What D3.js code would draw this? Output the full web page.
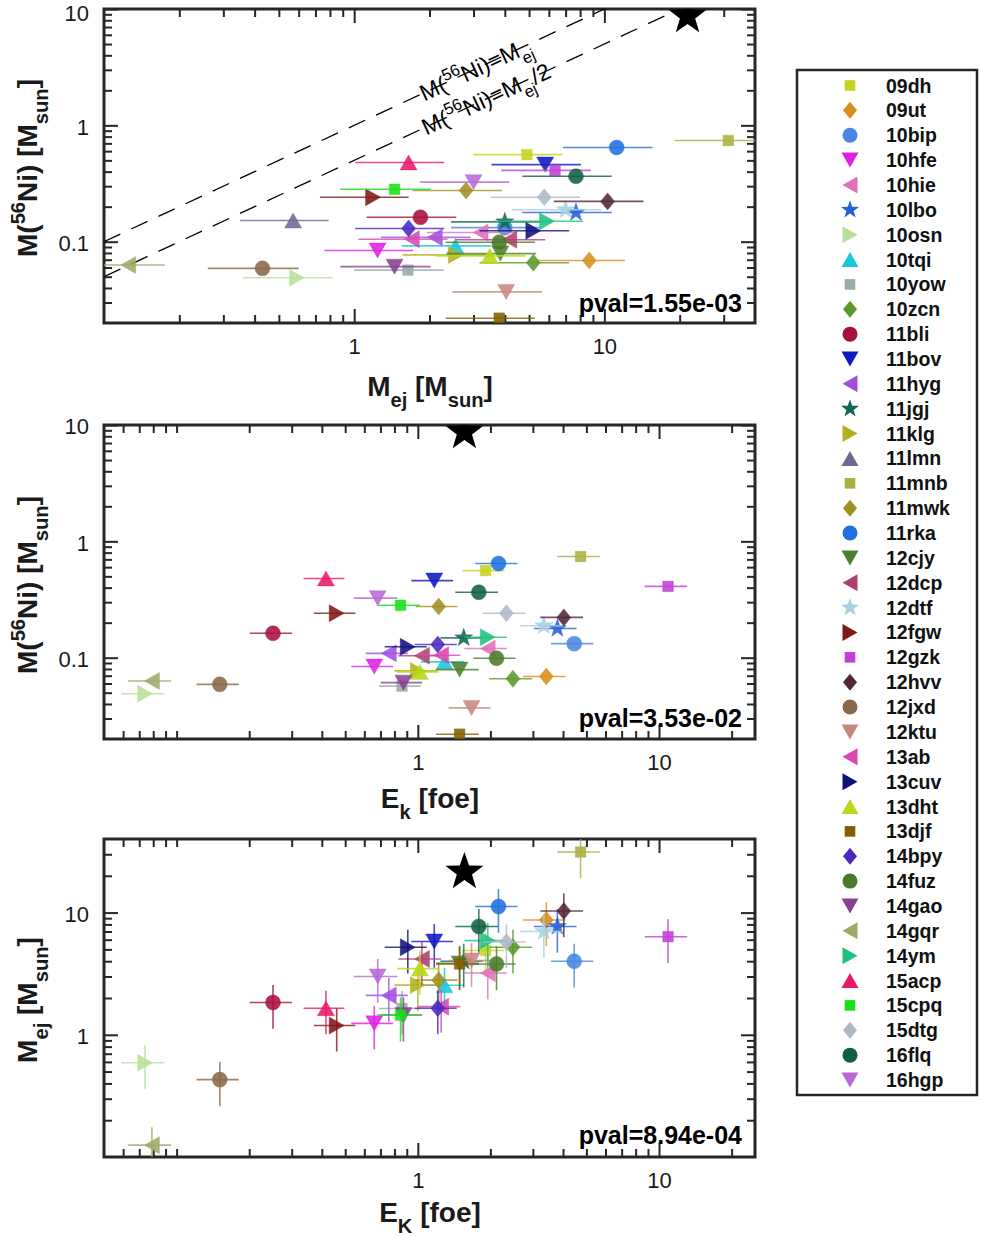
<!DOCTYPE html>
<html>
<head>
<meta charset="utf-8">
<script src="https://cdnjs.cloudflare.com/ajax/libs/d3/7.8.5/d3.min.js"></script>
<style>
  body { margin: 0; background: #fff; }
  text { font-family: "Liberation Sans", Arial, Helvetica, sans-serif; }
</style>
</head>
<body>
<svg id="fig" width="981" height="1237"></svg>
<script>
// supernova names, marker shapes and colours (legend order)
var names = ["09dh","09ut","10bip","10hfe","10hie","10lbo","10osn","10tqi","10yow","10zcn",
  "11bli","11bov","11hyg","11jgj","11klg","11lmn","11mnb","11mwk","11rka","12cjy",
  "12dcp","12dtf","12fgw","12gzk","12hvv","12jxd","12ktu","13ab","13cuv","13dht",
  "13djf","14bpy","14fuz","14gao","14gqr","14ym","15acp","15cpq","15dtg","16flq","16hgp"];
var shapes = ["s","d","o","v","<","p",">","^","s","d",
  "o","v","<","p",">","^","s","d","o","v",
  "<","p",">","s","d","o","v","<",">","^",
  "s","d","o","v","<",">","^","s","d","o","v"];
var colors = ["#c5d41f","#d98e1c","#4a86e0","#e020e0","#e070b8","#2860d8","#b8e09a","#18c8d8","#9aabaa","#5a9a2a",
  "#a8103c","#1018c0","#a050e0","#106858","#b0b020","#706890","#a8b040","#a09020","#2070e0","#4a8030",
  "#b04070","#a8d0e0","#801818","#c040d8","#502838","#8a6848","#c88880","#d848b0","#10107a","#b8d818",
  "#806000","#4828c0","#4a7a28","#884090","#a0a868","#20c080","#e81868","#18e018","#b0b8c8","#106040","#b868d8"];

// ejecta mass [Msun] and its error
var mej = [4.9, 8.7, 4.0, 1.24, 3.2, 7.7, 0.59, 2.54, 1.64, 5.2,
  1.84, 5.8, 2.1, 4.0, 2.55, 0.57, 31.3, 2.8, 11.2, 3.84,
  4.17, 7.0, 1.19, 6.35, 10.3, 0.43, 4.05, 1.7, 5.2, 3.48,
  3.8, 1.65, 3.8, 1.45, 0.125, 5.9, 1.65, 1.45, 5.75, 7.7, 3.0];
var mejErr = [1.91, 3.39, 1.56, 0.48, 1.25, 3.0, 0.23, 0.99, 0.64, 2.03,
  0.72, 2.26, 0.82, 1.56, 0.99, 0.22, 12.2, 1.09, 4.37, 1.5,
  1.63, 2.73, 0.46, 2.48, 4.02, 0.17, 1.58, 0.66, 2.03, 1.36,
  1.48, 0.64, 1.48, 0.57, 0.05, 2.3, 0.64, 0.57, 2.24, 3.0, 1.17];
// 56Ni mass [Msun]
var ni = [0.56, 0.069, 0.132, 0.084, 0.12, 0.178, 0.049, 0.092, 0.057, 0.066,
  0.162, 0.46, 0.109, 0.148, 0.077, 0.152, 0.74, 0.275, 0.645, 0.079,
  0.104, 0.188, 0.241, 0.41, 0.222, 0.059, 0.037, 0.105, 0.124, 0.0755,
  0.022, 0.13, 0.099, 0.061, 0.063, 0.15, 0.48, 0.282, 0.241, 0.365, 0.325];
// kinetic energy [foe] and its error (11lmn has none)
var ek = [1.91, 3.41, 4.45, 0.66, 1.95, 3.79, 0.074, 1.29, 0.86, 2.48,
  0.251, 1.17, 0.758, 1.55, 1.0, null, 4.73, 1.22, 2.16, 1.49,
  1.04, 3.33, 0.461, 10.9, 4.03, 0.151, 1.67, 1.25, 0.909, 1.02,
  1.49, 1.21, 2.12, 0.872, 0.079, 1.95, 0.416, 0.848, 2.33, 1.79, 0.682];
var ekErr = [0.38, 0.68, 0.89, 0.13, 0.39, 0.76, 0.015, 0.26, 0.17, 0.5,
  0.05, 0.23, 0.15, 0.31, 0.2, null, 0.95, 0.24, 0.43, 0.3,
  0.21, 0.67, 0.09, 2.18, 0.81, 0.03, 0.33, 0.25, 0.18, 0.2,
  0.3, 0.24, 0.42, 0.17, 0.016, 0.39, 0.08, 0.17, 0.47, 0.36, 0.14];

// big black star: Ek, Mej, MNi
var refStar = [1.56, 21.5, 8.7];
// Ni = ratio * Mej guide lines
var guideRatios = [1, 0.5];
var pvals = ["pval=1.55e-03", "pval=3.53e-02", "pval=8.94e-04"];
var xTicksMej = [1, 10], xTicksEk = [1, 10];
var yTicksNi = [0.1, 1, 10], yTicksMej = [1, 10];

var fontFam = '"Liberation Sans", Arial, Helvetica, sans-serif';
var axisColor = "#262626";
var svg = d3.select("#fig");
var defs = svg.append("defs");

var xTop = d3.scaleLog().domain([0.1, 40]).range([104, 755]);
var yTop = d3.scaleLog().domain([0.02, 10]).range([323, 9]);
var xMid = d3.scaleLog().domain([0.05, 25]).range([104, 755]);
var yMid = d3.scaleLog().domain([0.02, 10]).range([739, 425]);
var xBot = d3.scaleLog().domain([0.05, 25]).range([104, 755]);
var yBot = d3.scaleLog().domain([0.1, 40]).range([1157, 839]);

function starPath(R, r){
  var pts = [];
  for(var i = 0; i < 10; i++){
    var a = -Math.PI/2 + i*Math.PI/5;
    var rr = (i % 2) ? r : R;
    pts.push([rr*Math.cos(a), rr*Math.sin(a)]);
  }
  return "M" + pts.join("L") + "Z";
}

function markerPath(s){
  switch(s){
    case 's': return "M-5.3,-5.3H5.3V5.3H-5.3Z";
    case 'd': return "M0,-8.5L7,0L0,8.5L-7,0Z";
    case 'o': return d3.symbol(d3.symbolCircle, Math.PI*7.5*7.5)();
    case 'v': return "M-8.5,-7.5L8.5,-7.5L0,7.5Z";
    case '^': return "M-8.5,7.5L8.5,7.5L0,-7.5Z";
    case '<': return "M7.5,-8.5L7.5,8.5L-7.5,0Z";
    case '>': return "M-7.5,-8.5L-7.5,8.5L7.5,0Z";
    case 'p': return starPath(9.5, 3.8);
  }
}

// text with sub/superscripts: parts = [[str, ''|'sub'|'sup'], ...]
function rich(t, parts, fs, base){
  var shift = 0;
  parts.forEach(function(p, k){
    var target = p[1] == 'sub' ? fs*0.38 : (p[1] == 'sup' ? -fs*0.42 : 0);
    t.append("tspan")
      .attr("dy", (k == 0 ? (base || 0) : 0) + target - shift)
      .attr("font-size", p[1] ? fs*0.72 : fs)
      .text(p[0]);
    shift = target;
  });
  return t;
}

function frame(x, y, xMajor, yMajor, clipId){
  var x0 = x.range()[0], x1 = x.range()[1];
  var y0 = y.range()[1], y1 = y.range()[0];
  var xd = x.domain(), yd = y.domain();
  var minorX = x.ticks().filter(function(d){ return xMajor.indexOf(d) < 0 && d > xd[0] && d < xd[1]; });
  var minorY = y.ticks().filter(function(d){ return yMajor.indexOf(d) < 0 && d > yd[0] && d < yd[1]; });

  defs.append("clipPath").attr("id", clipId)
    .append("rect").attr("x", x0).attr("y", y0).attr("width", x1 - x0).attr("height", y1 - y0);

  function ax(gen, tr, vals, size, labels){
    var g = svg.append("g").attr("transform", tr)
      .call(gen.tickValues(vals).tickSize(size).tickPadding(labels ? 15 : 3)
        .tickFormat(labels ? d3.format("~g") : ""));
    g.select(".domain").remove();
    g.selectAll(".tick line").attr("stroke", axisColor).attr("stroke-width", 2);
    g.selectAll(".tick text").attr("fill", "#1a1a1a").attr("font-size", "22px")
      .attr("font-family", fontFam);
    return g;
  }
  ax(d3.axisBottom(x), "translate(0," + y1 + ")", minorX, -8, false);
  ax(d3.axisBottom(x), "translate(0," + y1 + ")", xMajor, -14, true);
  ax(d3.axisTop(x), "translate(0," + y0 + ")", minorX, -8, false);
  ax(d3.axisTop(x), "translate(0," + y0 + ")", xMajor, -14, false);
  ax(d3.axisLeft(y), "translate(" + x0 + ",0)", minorY, -8, false);
  var left = ax(d3.axisLeft(y), "translate(" + x0 + ",0)", yMajor, -14, true);
  left.selectAll(".tick text").attr("dy", "0.40em");
  ax(d3.axisRight(y), "translate(" + x1 + ",0)", minorY, -8, false);
  ax(d3.axisRight(y), "translate(" + x1 + ",0)", yMajor, -14, false);

  svg.append("rect").attr("x", x0).attr("y", y0)
    .attr("width", x1 - x0).attr("height", y1 - y0)
    .attr("fill", "none").attr("stroke", axisColor).attr("stroke-width", 3);
  return left;
}

function drawPoints(x, y, xs, ys, xErr, yErr, clipId){
  var g = svg.append("g").attr("clip-path", "url(#" + clipId + ")");
  names.forEach(function(n, i){
    if(xs[i] == null || ys[i] == null) return;
    var cx = x(xs[i]), cy = y(ys[i]);
    if(xErr){
      g.append("line")
        .attr("x1", x(xs[i] - xErr[i])).attr("x2", x(xs[i] + xErr[i]))
        .attr("y1", cy).attr("y2", cy)
        .attr("stroke", colors[i]).attr("stroke-width", 1.6).attr("stroke-opacity", 0.8);
    }
    if(yErr){
      g.append("line")
        .attr("x1", cx).attr("x2", cx)
        .attr("y1", y(ys[i] - yErr[i])).attr("y2", y(ys[i] + yErr[i]))
        .attr("stroke", colors[i]).attr("stroke-width", 1.6).attr("stroke-opacity", 0.8);
    }
    g.append("path")
      .attr("d", markerPath(shapes[i]))
      .attr("transform", "translate(" + cx + "," + cy + ")")
      .attr("fill", colors[i]).attr("fill-opacity", 0.88)
      .attr("stroke", colors[i]).attr("stroke-width", 0.8).attr("stroke-opacity", 0.5);
  });
  return g;
}

function bigStar(g, cx, cy){
  g.append("path").attr("d", starPath(20, 8))
    .attr("transform", "translate(" + cx + "," + cy + ")")
    .attr("fill", "#000");
}

function pvalText(str, yb){
  svg.append("text").attr("x", 742).attr("y", yb)
    .attr("text-anchor", "end").attr("font-weight", "bold")
    .attr("font-size", "25px").attr("fill", "#000").text(str);
}

// ---------- top panel: MNi vs Mej ----------
var leftTop = frame(xTop, yTop, xTicksMej, yTicksNi, "clipTop");
// the "10" sits at the very top of the page: keep it inside
leftTop.selectAll(".tick text").filter(function(d){ return d == 10; }).attr("dy", "0.52em");

var ang = Math.atan2(yTop(10) - yTop(1), xTop(10) - xTop(1)) * 180 / Math.PI;
var labelStarts = [421, 423];
var labelParts = [
  [["M(", ""], ["56", "sup"], ["Ni)=M", ""], ["ej", "sub"]],
  [["M(", ""], ["56", "sup"], ["Ni)=M", ""], ["ej", "sub"], ["/2", ""]]
];
guideRatios.forEach(function(r, k){
  var lx = labelStarts[k];
  var ly = yTop(xTop.invert(lx) * r);
  var t = svg.append("text")
    .attr("transform", "translate(" + lx + "," + ly + ") rotate(" + ang + ")")
    .attr("fill", "#000").attr("font-size", "23px");
  rich(t, labelParts[k], 23, 8);
});

var gTop = svg.append("g").attr("clip-path", "url(#clipTop)");
guideRatios.forEach(function(r){
  var d = xTop.domain();
  gTop.append("line")
    .attr("x1", xTop(d[0])).attr("y1", yTop(d[0] * r))
    .attr("x2", xTop(d[1])).attr("y2", yTop(d[1] * r))
    .attr("stroke", "#000").attr("stroke-width", 1.3)
    .attr("stroke-dasharray", "18,12");
});
drawPoints(xTop, yTop, mej, ni, mejErr, null, "clipTop");
bigStar(gTop, xTop(refStar[1]), yTop(refStar[2]));
pvalText(pvals[0], 312);

rich(svg.append("text").attr("x", 430).attr("y", 396).attr("text-anchor", "middle")
  .attr("font-weight", "bold").attr("fill", "#1a1a1a"),
  [["M", ""], ["ej", "sub"], [" [M", ""], ["sun", "sub"], ["]", ""]], 28);
rich(svg.append("text").attr("transform", "translate(37,168) rotate(-90)").attr("text-anchor", "middle")
  .attr("font-weight", "bold").attr("fill", "#1a1a1a"),
  [["M(", ""], ["56", "sup"], ["Ni) [M", ""], ["sun", "sub"], ["]", ""]], 28);

// ---------- middle panel: MNi vs Ek ----------
frame(xMid, yMid, xTicksEk, yTicksNi, "clipMid");
var gMid = drawPoints(xMid, yMid, ek, ni, ekErr, null, "clipMid");
bigStar(gMid, xMid(refStar[0]), yMid(refStar[2]));
pvalText(pvals[1], 727);

rich(svg.append("text").attr("x", 430).attr("y", 808).attr("text-anchor", "middle")
  .attr("font-weight", "bold").attr("fill", "#1a1a1a"),
  [["E", ""], ["k", "sub"], [" [foe]", ""]], 28);
rich(svg.append("text").attr("transform", "translate(37,585) rotate(-90)").attr("text-anchor", "middle")
  .attr("font-weight", "bold").attr("fill", "#1a1a1a"),
  [["M(", ""], ["56", "sup"], ["Ni) [M", ""], ["sun", "sub"], ["]", ""]], 28);

// ---------- bottom panel: Mej vs Ek ----------
frame(xBot, yBot, xTicksEk, yTicksMej, "clipBot");
var gBot = drawPoints(xBot, yBot, ek, mej, ekErr, mejErr, "clipBot");
bigStar(gBot, xBot(refStar[0]), yBot(refStar[1]));
pvalText(pvals[2], 1144);

rich(svg.append("text").attr("x", 430).attr("y", 1222).attr("text-anchor", "middle")
  .attr("font-weight", "bold").attr("fill", "#1a1a1a"),
  [["E", ""], ["K", "sub"], [" [foe]", ""]], 28);
rich(svg.append("text").attr("transform", "translate(37,1000) rotate(-90)").attr("text-anchor", "middle")
  .attr("font-weight", "bold").attr("fill", "#1a1a1a"),
  [["M", ""], ["ej", "sub"], [" [M", ""], ["sun", "sub"], ["]", ""]], 28);

// ---------- legend ----------
svg.append("rect").attr("x", 797).attr("y", 70).attr("width", 180).attr("height", 1025)
  .attr("fill", "#fff").attr("stroke", axisColor).attr("stroke-width", 2.5);
var rowY = d3.scaleLinear().domain([0, names.length - 1]).range([85.5, 1080]);
var leg = svg.append("g");
names.forEach(function(n, i){
  leg.append("path").attr("d", markerPath(shapes[i]))
    .attr("transform", "translate(850," + rowY(i) + ")")
    .attr("fill", colors[i]);
  leg.append("text").attr("x", 886).attr("y", rowY(i)).attr("dy", "0.36em")
    .attr("font-weight", "bold").attr("font-size", "19.5px").attr("fill", "#111")
    .text(n);
});
</script>
</body>
</html>
